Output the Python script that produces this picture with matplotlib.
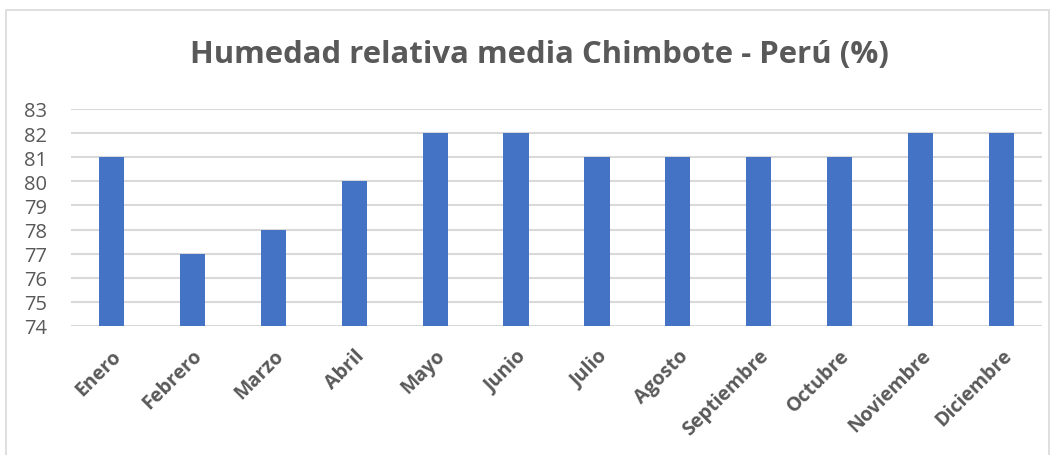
import matplotlib.pyplot as plt
from matplotlib.patches import Rectangle

meses = ["Enero", "Febrero", "Marzo", "Abril", "Mayo", "Junio", "Julio",
         "Agosto", "Septiembre", "Octubre", "Noviembre", "Diciembre"]
humedad = [81, 77, 78, 80, 82, 82, 81, 81, 81, 81, 82, 82]
yticks = [74, 75, 76, 77, 78, 79, 80, 81, 82, 83]

gris = "#595959"
plt.rcParams['font.family'] = ['Open Sans', 'DejaVu Sans']

fig = plt.figure(figsize=(10.59, 4.56), dpi=100)
# chart border like the spreadsheet frame
fig.patches.append(Rectangle((6 / 1059, -0.05), 1043 / 1059, 1 - 11 / 456 + 0.05,
                             transform=fig.transFigure, fill=False,
                             edgecolor="#d9d9d9", linewidth=1.2))

ax = fig.add_axes([71 / 1059, 1 - 327 / 456, 971 / 1059, 217 / 456])
x = range(len(meses))
ax.bar(x, humedad, width=0.31, color="#4472c4", zorder=2)
ax.set_ylim(74, 83)
ax.set_xlim(-0.5, len(meses) - 0.5)
ax.set_yticks(yticks)
ax.yaxis.grid(True, color="#d9d9d9", linewidth=1.5, zorder=0)
for s in ax.spines.values():
    s.set_visible(False)
ax.tick_params(axis="both", length=0, colors=gris)
ax.tick_params(axis="y", labelsize=14.5, pad=17)
ax.set_xticks(list(x))
ax.set_xticklabels(meses, rotation=45, ha="right", rotation_mode="anchor",
                   fontsize=14, fontweight="bold", color=gris)
ax.tick_params(axis="x", pad=14)

fig.text(539 / 1059, 1 - 55 / 456, "Humedad relativa media Chimbote - Perú (%)",
         ha="center", va="center", fontsize=22.4, fontweight="bold", color=gris)

fig.savefig("out.png", dpi=100)
